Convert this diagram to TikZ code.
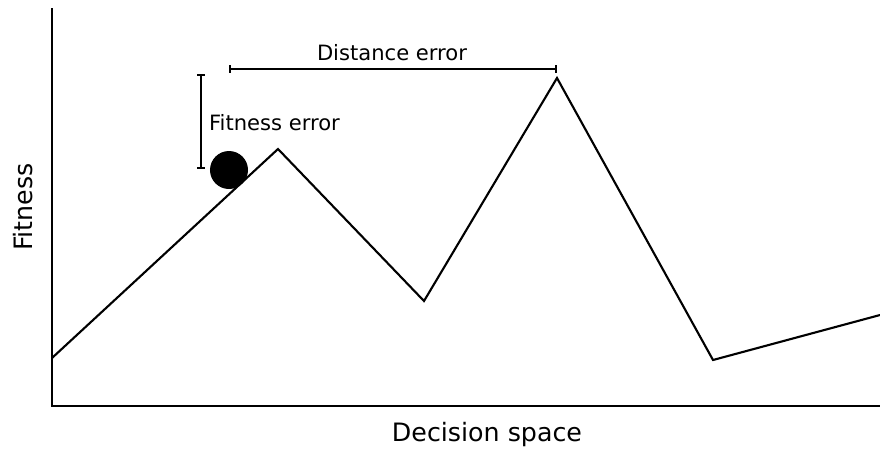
\documentclass[tikz,border=0pt]{standalone}
\usepackage{fontspec}
\setmainfont{DejaVu Sans}
\usetikzlibrary{arrows.meta}

\begin{document}
\begin{tikzpicture}[x=0.025cm,y=-0.025cm,line width=1.5pt,>={Bar[width=5pt]}]
\useasboundingbox (0,0) rectangle (880,450);
% axes
\coordinate (top) at (52,8);
\coordinate (origin) at (52,406);
\coordinate (right) at (880,406);
\draw (top) -- (origin) -- (right);
\node[anchor=base,inner sep=0pt,font=\fontsize{18}{20}\selectfont] (xlab) at (487,441) {Decision space};
\node[anchor=base,inner sep=0pt,rotate=90,font=\fontsize{18}{20}\selectfont] (ylab) at (32,207) {Fitness};
% fitness landscape
\coordinate (p0) at (52,358);
\coordinate (p1) at (278,149);
\coordinate (p2) at (424,301);
\coordinate (p3) at (557,78);
\coordinate (p4) at (713,360);
\coordinate (p5) at (880,315);
\draw (p0) -- (p1) -- (p2) -- (p3) -- (p4) -- (p5);
\node[circle,fill=black,inner sep=0pt,minimum size=0.95cm] (ball) at (229,170) {};
% errors
\coordinate (fetop) at (201,74);
\coordinate (febot) at (201,169);
\draw[<->] (fetop) -- (febot);
\node[anchor=base west,inner sep=0pt,font=\fontsize{15}{17}\selectfont] (felab) at (208,130) {Fitness error};
\coordinate (deleft) at (229,69);
\coordinate (deright) at (557,69);
\draw[<->] (deleft) -- (deright);
\node[anchor=base,inner sep=0pt,font=\fontsize{15}{17}\selectfont] (delab) at (392,60) {Distance error};
\end{tikzpicture}
\end{document}
